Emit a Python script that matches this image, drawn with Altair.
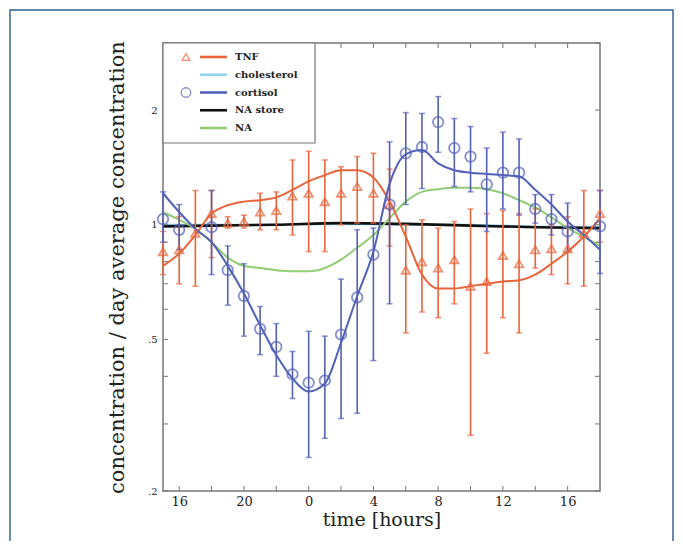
import altair as alt
import pandas as pd

# ---------------- data ----------------
hours = list(range(15, 43))

tnf_mean = [0.85, 0.86, 0.95, 1.07, 1.01, 1.02, 1.08, 1.09, 1.19, 1.21, 1.15, 1.21, 1.26, 1.21,
            1.13, 0.76, 0.80, 0.77, 0.81, 0.69, 0.71, 0.83, 0.79, 0.86, 0.865, 0.865, 0.95, 1.07]
tnf_lo = [0.74, 0.70, 0.69, 0.82, 0.98, 0.98, 0.97, 0.97, 0.94, 0.85, 0.85, 1.00, 1.01, 1.01,
          0.88, 0.52, 0.59, 0.57, 0.62, 0.28, 0.46, 0.57, 0.52, 0.77, 0.74, 0.70, 0.69, 0.90]
tnf_hi = [0.96, 1.05, 1.23, 1.23, 1.05, 1.06, 1.21, 1.22, 1.48, 1.56, 1.48, 1.42, 1.51, 1.54,
          1.40, 1.00, 1.03, 0.98, 1.02, 1.10, 1.07, 1.09, 1.07, 1.10, 1.00, 1.05, 1.23, 1.23]

cort_mean = [1.035, 0.97, None, 0.985, 0.76, 0.65, 0.533, 0.478, 0.405, 0.385, 0.39, 0.515, 0.645, 0.835,
             1.13, 1.54, 1.60, 1.86, 1.59, 1.51, 1.276, 1.37, 1.37, 1.10, 1.035, 0.96, None, 0.99]
cort_lo = [0.90, 0.86, None, 0.74, 0.615, 0.51, 0.456, 0.40, 0.35, 0.245, 0.275, 0.31, 0.32, 0.44,
           0.62, 1.13, 1.245, 1.55, 1.26, 1.22, 0.96, 1.10, 1.06, 1.01, 0.94, 0.85, None, 0.745]
cort_hi = [1.22, 1.13, None, 1.23, 0.88, 0.79, 0.61, 0.55, 0.465, 0.525, 0.51, 0.72, 0.97, 0.98,
           1.65, 1.97, 1.96, 2.17, 1.90, 1.81, 1.59, 1.75, 1.68, 1.20, 1.20, 1.14, None, 1.23]

tnf_fit = [0.78, 0.84, 0.94, 1.07, 1.125, 1.15, 1.16, 1.18, 1.235, 1.30, 1.35, 1.39, 1.39, 1.33,
           1.15, 0.93, 0.74, 0.68, 0.68, 0.69, 0.70, 0.71, 0.715, 0.74, 0.79, 0.85, 0.93, 1.04]
cort_fit = [1.21, 1.08, 0.975, 0.90, 0.78, 0.66, 0.545, 0.455, 0.395, 0.365, 0.383, 0.49, 0.65, 0.85,
            1.28, 1.53, 1.57, 1.45, 1.39, 1.37, 1.36, 1.35, 1.34, 1.235, 1.13, 1.02, 0.94, 0.86]
na_fit = [1.08, 1.03, 0.975, 0.90, 0.82, 0.78, 0.77, 0.76, 0.755, 0.755, 0.77, 0.81, 0.87, 0.94,
          1.04, 1.15, 1.22, 1.24, 1.25, 1.25, 1.24, 1.21, 1.16, 1.11, 1.045, 0.98, 0.93, 0.88]

store_hours = [15, 18, 22, 26, 30, 34, 38, 42]
na_store = [0.99, 0.995, 1.0, 1.01, 1.005, 0.995, 0.985, 0.98]
cholesterol = [1.0, 1.0, 1.0, 1.005, 1.0, 1.0, 0.99, 0.985]

x_tick_values = [16, 20, 24, 28, 32, 36, 40]
x_minor = list(range(16, 42, 2))
y_tick_values = [0.2, 0.5, 1, 2]
y_minor = [0.2, 0.3, 0.4, 0.5, 0.6, 0.7, 0.8, 0.9, 1, 2, 3]

leg_names = ["TNF", "cholesterol", "cortisol", "NA store", "NA"]
C_TNF = "#e8643a"
C_CHOL = "#8fd3f0"
C_CORT = "#5260b8"
C_STORE = "#111111"
C_NA = "#92cc74"
leg_colors = [C_TNF, C_CHOL, C_CORT, C_STORE, C_NA]

W, H = 437, 448
FONT = "DejaVu Serif"

# ---------------- frames ----------------
tnf = pd.DataFrame({"hour": hours, "v": tnf_mean, "lo": tnf_lo, "hi": tnf_hi, "fit": tnf_fit})
cort = pd.DataFrame({"hour": hours, "v": cort_mean, "lo": cort_lo, "hi": cort_hi}).dropna()
fits = pd.DataFrame({"hour": hours, "tnf": tnf_fit, "cort": cort_fit, "na": na_fit})
store = pd.DataFrame({"hour": store_hours, "store": na_store, "chol": cholesterol})
xt = pd.DataFrame({"hour": x_minor})
yt = pd.DataFrame({"v": y_minor})
leg = pd.DataFrame({"name": leg_names, "color": leg_colors})
one = pd.DataFrame({"a": [0]})

xscale = alt.Scale(domain=[15, 42], nice=False, zero=False)
yscale = alt.Scale(type="log", domain=[0.2, 3], nice=False)
xaxis = alt.Axis(values=x_tick_values, labelExpr="datum.value % 24", title="time [hours]",
                 labelFontSize=13, labelPadding=4, titleFontSize=19, titlePadding=2)
yaxis = alt.Axis(values=y_tick_values,
                 labelExpr="datum.value == 1 ? '1' : datum.value == 2 ? '2' : datum.value == 0.5 ? '.5' : '.2'",
                 title="concentration / day average concentration",
                 labelFontSize=10, labelPadding=6, titleFontSize=21, titlePadding=20)

X = alt.X("hour:Q", scale=xscale, axis=xaxis)


def Y(field):
    return alt.Y(f"{field}:Q", scale=yscale, axis=yaxis)


chol_line = alt.Chart(store).mark_line(color=C_CHOL, strokeWidth=2).encode(x=X, y=Y("chol"))
store_line = alt.Chart(store).mark_line(color=C_STORE, strokeWidth=2.6, interpolate="monotone").encode(x=X, y=Y("store"))
na_line = alt.Chart(fits).mark_line(color=C_NA, strokeWidth=2, interpolate="monotone").encode(x=X, y=Y("na"))

tnf_bar = alt.Chart(tnf).mark_rule(color=C_TNF, strokeWidth=1.6).encode(x=X, y=Y("lo"), y2="hi")
tnf_cap_lo = alt.Chart(tnf).mark_tick(color=C_TNF, orient="horizontal", size=6, thickness=1.5).encode(x=X, y=Y("lo"))
tnf_cap_hi = alt.Chart(tnf).mark_tick(color=C_TNF, orient="horizontal", size=6, thickness=1.5).encode(x=X, y=Y("hi"))
cort_bar = alt.Chart(cort).mark_rule(color=C_CORT, strokeWidth=1.6).encode(x=X, y=Y("lo"), y2="hi")
cort_cap_lo = alt.Chart(cort).mark_tick(color=C_CORT, orient="horizontal", size=6, thickness=1.5).encode(x=X, y=Y("lo"))
cort_cap_hi = alt.Chart(cort).mark_tick(color=C_CORT, orient="horizontal", size=6, thickness=1.5).encode(x=X, y=Y("hi"))

tnf_line = alt.Chart(fits).mark_line(color=C_TNF, strokeWidth=2, interpolate="monotone").encode(x=X, y=Y("tnf"))
cort_line = alt.Chart(fits).mark_line(color=C_CORT, strokeWidth=2, interpolate="monotone").encode(x=X, y=Y("cort"))

tnf_pts = alt.Chart(tnf).mark_point(shape="triangle-up", color=C_TNF, size=70, strokeWidth=1.8,
                                     filled=False).encode(x=X, y=Y("v"))
cort_pts = alt.Chart(cort).mark_point(shape="circle", color=C_CORT, size=110, strokeWidth=1.8,
                                       filled=False).encode(x=X, y=Y("v"))

# inward frame ticks
tick_style = dict(color="#777", strokeWidth=1)
xt_bot = alt.Chart(xt).mark_rule(**tick_style).encode(x=X, y=alt.value(H), y2=alt.value(H - 5))
xt_top = alt.Chart(xt).mark_rule(**tick_style).encode(x=X, y=alt.value(0), y2=alt.value(5))
yt_left = alt.Chart(yt).mark_rule(**tick_style).encode(y=Y("v"), x=alt.value(0), x2=alt.value(5))
yt_right = alt.Chart(yt).mark_rule(**tick_style).encode(y=Y("v"), x=alt.value(W), x2=alt.value(W - 5))

main = alt.layer(
    chol_line, store_line, na_line,
    tnf_bar, tnf_cap_lo, tnf_cap_hi, cort_bar, cort_cap_lo, cort_cap_hi,
    tnf_line, cort_line, tnf_pts, cort_pts,
    xt_bot, xt_top, yt_left, yt_right,
)

# legend (drawn in the top-left corner of the plot)
LY = alt.Y("name:N", sort=leg_names, scale=alt.Scale(type="point", range=[14, 85], padding=0), axis=None)
leg_box = alt.Chart(one).mark_rect(fill="white", stroke="#777", strokeWidth=1.2).encode(
    x=alt.value(0), x2=alt.value(152), y=alt.value(0), y2=alt.value(100))
leg_lines = alt.Chart(leg).mark_rule(strokeWidth=2.6).encode(
    x=alt.value(37), x2=alt.value(64), y=LY, color=alt.Color("color:N", scale=None))
leg_text = alt.Chart(leg).mark_text(align="left", baseline="middle", font=FONT, fontSize=10,
                                    fontWeight="bold", color="#222").encode(
    x=alt.value(72), y=LY, text="name:N")
leg_tri = alt.Chart(leg[leg["name"] == "TNF"]).mark_point(shape="triangle-up", size=60, strokeWidth=1.3,
                                                         filled=False, color=C_TNF).encode(x=alt.value(23), y=LY)
leg_circ = alt.Chart(leg[leg["name"] == "cortisol"]).mark_point(shape="circle", size=90, strokeWidth=1.3,
                                                               filled=False, color=C_CORT).encode(x=alt.value(23), y=LY)
legend = alt.layer(leg_box, leg_lines, leg_text, leg_tri, leg_circ)

# outer blue picture frame
frame = alt.Chart(one).mark_rect(fillOpacity=0, stroke="#2b5d8f", strokeWidth=1.4).encode(
    x=alt.value(-153), x2=alt.value(510), y=alt.value(-33), y2=alt.value(620))

chart = alt.layer(frame, main, legend).resolve_scale(y="independent").properties(
    width=W, height=H,
    padding={"left": 155, "top": 35, "right": 75, "bottom": 50},
    autosize=alt.AutoSizeParams(type="none"),
    background="white",
).configure_view(
    stroke="#777", strokeWidth=1.5
).configure_axis(
    domain=False, ticks=False, grid=False,
    labelFont=FONT, titleFont=FONT, labelColor="#222", titleColor="#222",
    titleFontWeight="normal", labelFontWeight="normal",
)

chart.save("out.html", embed_options={"renderer": "svg", "actions": False})
